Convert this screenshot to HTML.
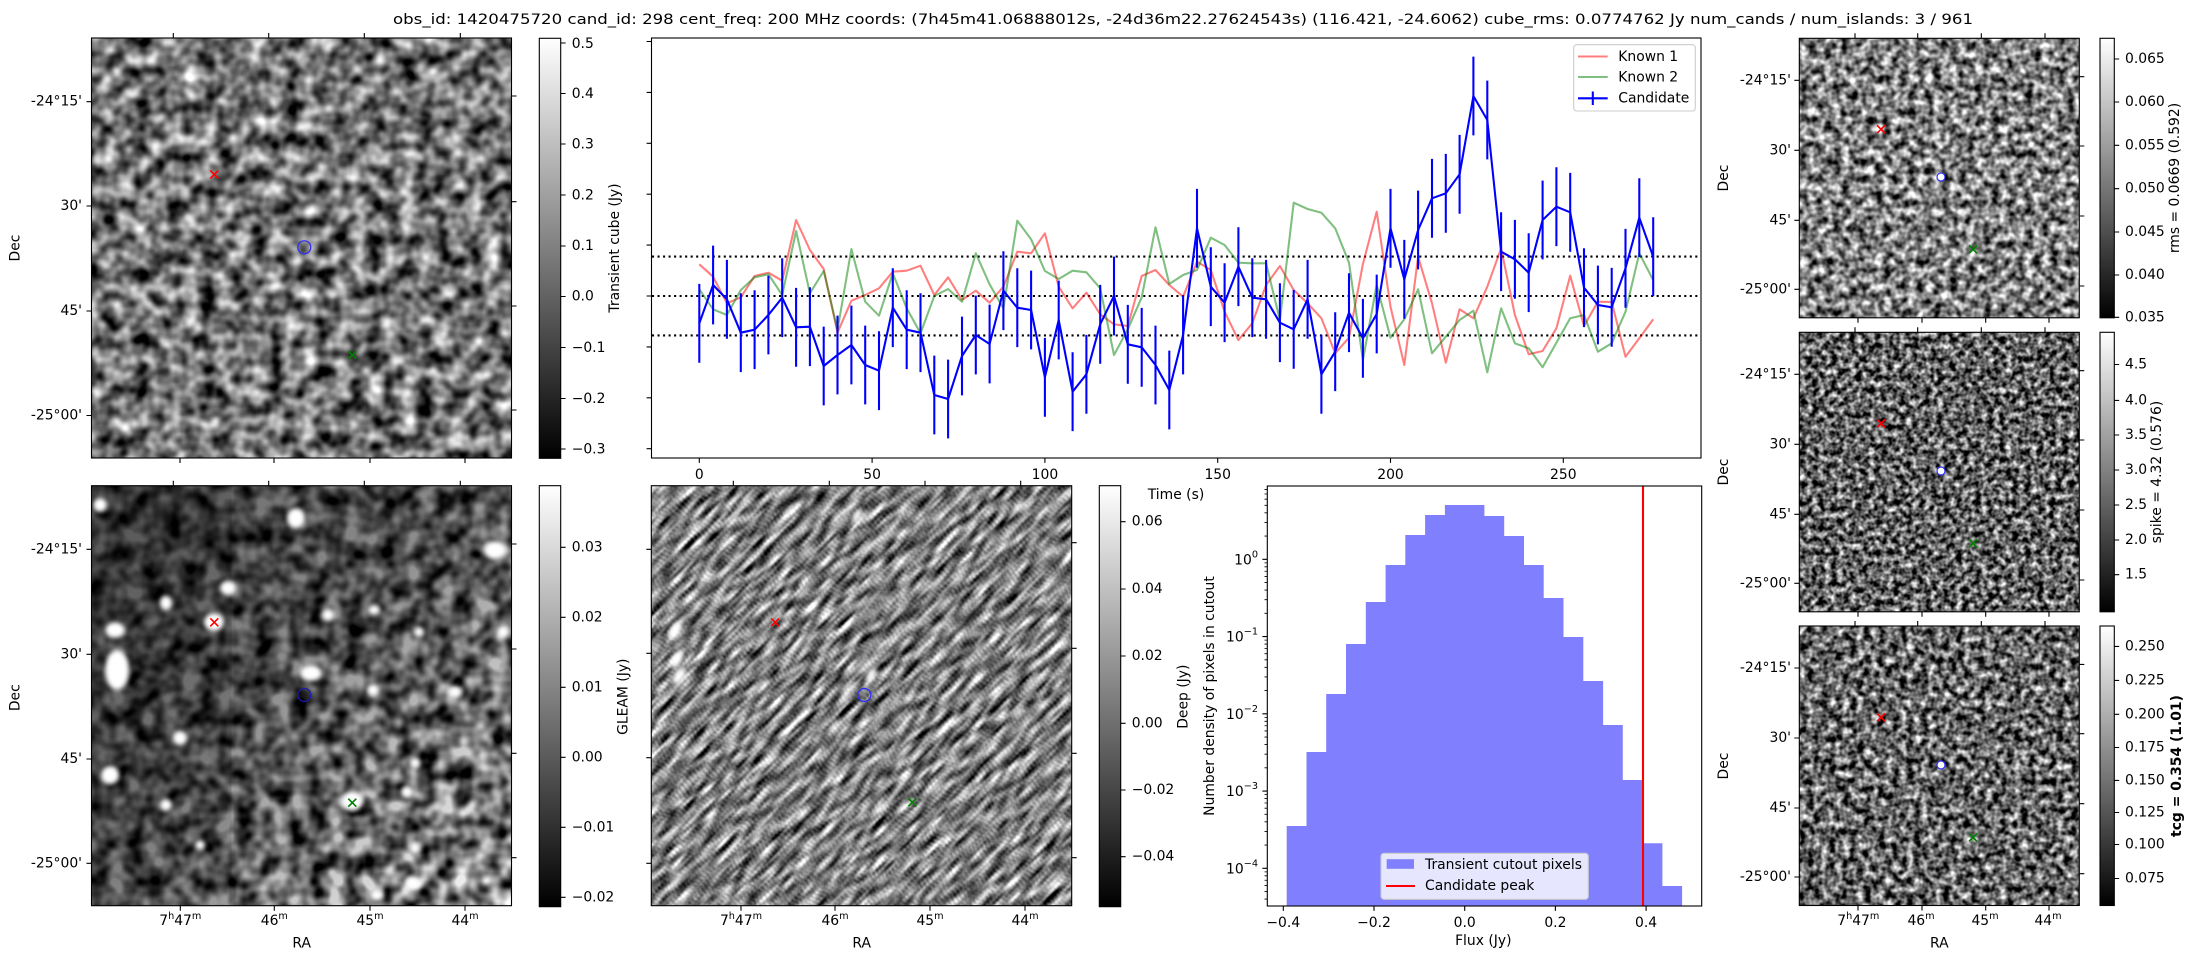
<!DOCTYPE html>
<html><head><meta charset="utf-8">
<style>
html,body{margin:0;padding:0;background:#fff;width:2193px;height:960px;overflow:hidden}
svg{display:block}
text{font-family:"DejaVu Sans","Liberation Sans",sans-serif;font-size:13.9px;fill:#000}
</style></head>
<body>
<svg width="2193" height="960" viewBox="0 0 2193 960" xmlns="http://www.w3.org/2000/svg" overflow="hidden">
<defs>
<linearGradient id="gcb" x1="0" y1="1" x2="0" y2="0"><stop offset="0" stop-color="#000"/><stop offset="1" stop-color="#fff"/></linearGradient>
<linearGradient id="gdark" x1="0" y1="0" x2="1" y2="1"><stop offset="0" stop-color="#000" stop-opacity="0.62"/><stop offset="0.45" stop-color="#000" stop-opacity="0.45"/><stop offset="1" stop-color="#000" stop-opacity="0"/></linearGradient>
<filter id="fTL" x="0" y="0" width="1" height="1" color-interpolation-filters="sRGB">
<feTurbulence type="fractalNoise" baseFrequency="0.06" numOctaves="2" seed="11"/>
<feColorMatrix type="matrix" values="1.6 0 0 0 -0.35 1.6 0 0 0 -0.35 1.6 0 0 0 -0.35 0 0 0 0 1"/>
</filter>
<filter id="fGL" x="0" y="0" width="1" height="1" color-interpolation-filters="sRGB">
<feTurbulence type="fractalNoise" baseFrequency="0.055" numOctaves="2" seed="4"/>
<feColorMatrix type="matrix" values="2 0 0 0 -0.48 2 0 0 0 -0.48 2 0 0 0 -0.48 0 0 0 0 1"/>
</filter>
<filter id="fDeep" x="-0.05" y="-0.05" width="1.1" height="1.1" color-interpolation-filters="sRGB">
<feTurbulence type="fractalNoise" baseFrequency="0.13" numOctaves="2" seed="21" result="t0"/>
<feColorMatrix in="t0" type="matrix" values="1 0 0 0 0 1 0 0 0 0 1 0 0 0 0 0 0 0 0 1" result="t"/>
<feOffset in="t" dx="3" dy="-3" result="a"/>
<feOffset in="t" dx="-3" dy="3" result="b"/>
<feOffset in="t" dx="6" dy="-6" result="c"/>
<feOffset in="t" dx="-6" dy="6" result="d"/>
<feComposite in="a" in2="b" operator="arithmetic" k2="0.5" k3="0.5" result="ab"/>
<feComposite in="c" in2="d" operator="arithmetic" k2="0.5" k3="0.5" result="cd"/>
<feComposite in="ab" in2="cd" operator="arithmetic" k2="0.6" k3="0.4" result="abcd"/>
<feComposite in="abcd" in2="t" operator="arithmetic" k2="0.7" k3="0.3" result="m"/>
<feColorMatrix in="m" type="matrix" values="3.2 0 0 0 -1.1 3.2 0 0 0 -1.1 3.2 0 0 0 -1.1 0 0 0 0 1"/>
</filter>
<filter id="fRms" x="0" y="0" width="1" height="1" color-interpolation-filters="sRGB">
<feTurbulence type="fractalNoise" baseFrequency="0.12" numOctaves="2" seed="5"/>
<feColorMatrix type="matrix" values="1.8 0 0 0 -0.4 1.8 0 0 0 -0.4 1.8 0 0 0 -0.4 0 0 0 0 1"/>
</filter>
<filter id="fSpk" x="0" y="0" width="1" height="1" color-interpolation-filters="sRGB">
<feTurbulence type="fractalNoise" baseFrequency="0.16" numOctaves="2" seed="8"/>
<feColorMatrix type="matrix" values="1.9 0 0 0 -0.57 1.9 0 0 0 -0.57 1.9 0 0 0 -0.57 0 0 0 0 1"/>
</filter>
<filter id="fTcg" x="0" y="0" width="1" height="1" color-interpolation-filters="sRGB">
<feTurbulence type="fractalNoise" baseFrequency="0.14" numOctaves="2" seed="13"/>
<feColorMatrix type="matrix" values="1.9 0 0 0 -0.55 1.9 0 0 0 -0.55 1.9 0 0 0 -0.55 0 0 0 0 1"/>
</filter>
<filter id="fBlur" x="-50%" y="-50%" width="200%" height="200%"><feGaussianBlur stdDeviation="2.5"/></filter>
<clipPath id="cGL"><rect x="91.5" y="485.7" width="420" height="420"/></clipPath>
<clipPath id="cDeep"><rect x="651.3" y="485.7" width="420.4" height="420"/></clipPath>
</defs>

<text x="393" y="24" font-size="16.7" textLength="1580" lengthAdjust="spacingAndGlyphs">obs_id: 1420475720 cand_id: 298 cent_freq: 200 MHz coords: (7h45m41.06888012s, -24d36m22.27624543s) (116.421, -24.6062) cube_rms: 0.0774762 Jy num_cands / num_islands: 3 / 961</text>

<!-- ============ TOP-LEFT transient image ============ -->
<rect x="91.5" y="38" width="420" height="420" filter="url(#fTL)"/>
<rect x="91.5" y="38" width="420" height="420" fill="none" stroke="#000" stroke-width="1.1"/>
<g stroke="#000" stroke-width="1.1" fill="none">
<path d="M86.5 101.7H91.5M86.5 206H91.5M86.5 311H91.5M86.5 415.5H91.5M511.5 96H516.5M511.5 201.7H516.5M511.5 306H516.5M511.5 410H516.5M173.3 33V38M268.7 33V38M364.3 33V38M460.3 33V38M180 458V463M274 458V463M370 458V463M465 458V463"/>
</g>
<g text-anchor="end" dominant-baseline="central">
<text x="82" y="101.7">-24°15'</text><text x="82" y="206">30'</text><text x="82" y="311">45'</text><text x="82" y="415.5">-25°00'</text>
</g>
<text transform="rotate(-90 15.7 248)" x="15.7" y="248" text-anchor="middle" dominant-baseline="central">Dec</text>
<g stroke-width="1.6" fill="none">
<path d="M210.3 170.5L218.3 178.5M210.3 178.5L218.3 170.5" stroke="#ff0000"/>
<path d="M348.3 351L356.3 359M348.3 359L356.3 351" stroke="#008000"/>
<circle cx="304.3" cy="247.3" r="6.5" stroke="#2a2aff" stroke-width="1.2"/>
</g>
<!-- colorbar TL -->
<rect x="539.3" y="38.3" width="21.4" height="420" fill="url(#gcb)" stroke="#000" stroke-width="1.1"/>
<path d="M560.7 43H565.6M560.7 93.5H565.6M560.7 144H565.6M560.7 195H565.6M560.7 246H565.6M560.7 296.5H565.6M560.7 347.5H565.6M560.7 398.5H565.6M560.7 449H565.6" stroke="#000" stroke-width="1.1"/>
<g dominant-baseline="central">
<text x="571.7" y="44">0.5</text><text x="571.7" y="94">0.4</text><text x="571.7" y="144.5">0.3</text><text x="571.7" y="195.5">0.2</text><text x="571.7" y="246">0.1</text><text x="571.7" y="296.5">0.0</text><text x="571.7" y="348">−0.1</text><text x="571.7" y="399">−0.2</text><text x="571.7" y="449.3">−0.3</text>
</g>
<text transform="rotate(-90 615 248)" x="615" y="248" text-anchor="middle" dominant-baseline="central">Transient cube (Jy)</text>

<!-- ============ LIGHT CURVE ============ -->
<rect x="651.5" y="38" width="1049.5" height="420" fill="none" stroke="#000" stroke-width="1.1"/>
<path d="M646.6 41.5H651.5M646.6 92.4H651.5M646.6 143.3H651.5M646.6 194.2H651.5M646.6 245.1H651.5M646.6 296H651.5M646.6 346.9H651.5M646.6 397.8H651.5M646.6 448.7H651.5M699.3 458V462.9M872.1 458V462.9M1044.9 458V462.9M1217.7 458V462.9M1390.5 458V462.9M1563.3 458V462.9" stroke="#000" stroke-width="1.1"/>
<g text-anchor="middle">
<text x="699.3" y="479">0</text><text x="872.1" y="479">50</text><text x="1044.9" y="479">100</text><text x="1217.7" y="479">150</text><text x="1390.5" y="479">200</text><text x="1563.3" y="479">250</text>
<text x="1176" y="499">Time (s)</text>
</g>
<g stroke="#000" stroke-width="2.08" stroke-dasharray="2.08 3.44" fill="none">
<path d="M652 256.6H1700.5M652 296H1700.5M652 335.4H1700.5"/>
</g>
<path fill="none" stroke="#ff0000" stroke-opacity="0.5" stroke-width="2.08" stroke-linejoin="round" d="M699.3 264.3L713.1 276.7L726.9 303.3L740.8 297.3L754.6 276L768.4 272.7L782.2 280.7L796.1 220L809.9 250L823.7 269L837.5 332.7L851.4 300.7L865.2 295L879 288.3L892.8 271.7L906.7 270.7L920.5 265.7L934.3 295L948.1 277.3L962 300L975.8 290.7L989.6 302.7L1003.4 286.7L1017.3 251.7L1031.1 253.3L1044.9 233.3L1058.7 286.7L1072.6 308.3L1086.4 292.7L1100.2 314.3L1114 324.3L1127.8 326L1141.7 276L1155.5 270L1169.3 285L1183.1 296.7L1197 261.7L1210.8 270L1224.6 311.7L1238.4 340L1252.3 323.3L1266.1 285L1279.9 266L1293.7 290L1307.6 303.3L1321.4 318.3L1335.2 353.3L1349 337.7L1362.9 264L1376.7 211.7L1390.5 306.7L1404.3 365L1418.1 256.7L1432 303.3L1445.8 362.7L1459.6 309.3L1473.4 318.3L1487.3 286.7L1501.1 248.3L1514.9 315L1528.7 354.3L1542.6 351L1556.4 328.3L1570.2 275.7L1584 326L1597.9 301.7L1611.7 302L1625.5 356.7L1639.3 338.3L1653.2 319.3"/>
<path fill="none" stroke="#008000" stroke-opacity="0.5" stroke-width="2.08" stroke-linejoin="round" d="M699.3 289.3L713.1 309.3L726.9 315L740.8 290L754.6 277.3L768.4 274.3L782.2 295L796.1 231L809.9 293.3L823.7 271L837.5 330L851.4 249L865.2 301.7L879 315.7L892.8 273.3L906.7 308.3L920.5 333.3L934.3 296L948.1 289L962 301.7L975.8 253.3L989.6 284.3L1003.4 308.3L1017.3 220.7L1031.1 239.3L1044.9 271L1058.7 279L1072.6 270.7L1086.4 272.3L1100.2 288.3L1114 355L1127.8 329.3L1141.7 297.3L1155.5 227.3L1169.3 284L1183.1 275L1197 270L1210.8 237.7L1224.6 245L1238.4 262.7L1252.3 263.3L1266.1 263.3L1279.9 320L1293.7 202.7L1307.6 209L1321.4 212.7L1335.2 228.3L1349 262.7L1362.9 360L1376.7 285L1390.5 337.7L1404.3 319.3L1418.1 289.3L1432 353.3L1445.8 336.7L1459.6 320L1473.4 310.7L1487.3 372.3L1501.1 308.3L1514.9 343.3L1528.7 348.3L1542.6 367.3L1556.4 342.7L1570.2 318.3L1584 315L1597.9 351.7L1611.7 343.3L1625.5 311.7L1639.3 253.3L1653.2 280"/>
<path fill="none" stroke="#0000ff" stroke-width="2.08" d="M699.3 283.9V362.7M713.1 245.6V324.4M726.9 259.9V338.7M740.8 293.3V372.1M754.6 290.3V369.1M768.4 275.6V354.4M782.2 258.3V337.1M796.1 287.9V366.7M809.9 287.3V366.1M823.7 326.6V405.4M837.5 315.6V394.4M851.4 305.6V384.4M865.2 325.6V404.4M879 331.3V410.1M892.8 268.3V347.1M906.7 290.3V369.1M920.5 293.3V372.1M934.3 355.6V434.4M948.1 359.6V438.4M962 316.6V395.4M975.8 295.6V374.4M989.6 304.6V383.4M1003.4 251.3V330.1M1017.3 268.3V347.1M1031.1 270.6V349.4M1044.9 337.9V416.7M1058.7 280.6V359.4M1072.6 352.3V431.1M1086.4 334.9V413.7M1100.2 284.9V363.7M1114 256.6V335.4M1127.8 304.9V383.7M1141.7 307.9V386.7M1155.5 325.6V404.4M1169.3 350.6V429.4M1183.1 295.6V374.4M1197 188.9V267.7M1210.8 247.3V326.1M1224.6 263.3V342.1M1238.4 227.3V306.1M1252.3 258.3V337.1M1266.1 259.9V338.7M1279.9 283.3V362.1M1293.7 289.9V368.7M1307.6 259.9V338.7M1321.4 334.9V413.7M1335.2 312.3V391.1M1349 273.3V352.1M1362.9 298.9V377.7M1376.7 274.6V353.4M1390.5 188.9V267.7M1404.3 239.9V318.7M1418.1 190.6V269.4M1432 158.9V237.7M1445.8 153.9V232.7M1459.6 134.9V213.7M1473.4 56.6V135.4M1487.3 80.6V159.4M1501.1 212.3V291.1M1514.9 219.9V298.7M1528.7 233.3V312.1M1542.6 180.6V259.4M1556.4 167.3V246.1M1570.2 172.9V251.7M1584 248.3V327.1M1597.9 265.6V344.4M1611.7 267.9V346.7M1625.5 228.9V307.7M1639.3 178.3V257.1M1653.2 217.3V296.1"/>
<path fill="none" stroke="#0000ff" stroke-width="2.08" stroke-linejoin="round" d="M699.3 323.3L713.1 285L726.9 299.3L740.8 332.7L754.6 329.7L768.4 315L782.2 297.7L796.1 327.3L809.9 326.7L823.7 366L837.5 355L851.4 345L865.2 365L879 370.7L892.8 307.7L906.7 329.7L920.5 332.7L934.3 395L948.1 399L962 356L975.8 335L989.6 344L1003.4 290.7L1017.3 307.7L1031.1 310L1044.9 377.3L1058.7 320L1072.6 391.7L1086.4 374.3L1100.2 324.3L1114 296L1127.8 344.3L1141.7 347.3L1155.5 365L1169.3 390L1183.1 335L1197 228.3L1210.8 286.7L1224.6 302.7L1238.4 266.7L1252.3 297.7L1266.1 299.3L1279.9 322.7L1293.7 329.3L1307.6 299.3L1321.4 374.3L1335.2 351.7L1349 312.7L1362.9 338.3L1376.7 314L1390.5 228.3L1404.3 279.3L1418.1 230L1432 198.3L1445.8 193.3L1459.6 174.3L1473.4 96L1487.3 120L1501.1 251.7L1514.9 259.3L1528.7 272.7L1542.6 220L1556.4 206.7L1570.2 212.3L1584 287.7L1597.9 305L1611.7 307.3L1625.5 268.3L1639.3 217.7L1653.2 256.7"/>
<!-- legend LC -->
<rect x="1573.7" y="44.7" width="121.6" height="66.3" rx="3" fill="#fff" fill-opacity="0.8" stroke="#cccccc" stroke-width="1.1"/>
<path d="M1578 56.5H1607.7" stroke="#ff0000" stroke-opacity="0.5" stroke-width="2.08"/>
<path d="M1578 77H1607.7" stroke="#008000" stroke-opacity="0.5" stroke-width="2.08"/>
<path d="M1578 98.3H1607.7M1592.8 91.5V105" stroke="#0000ff" stroke-width="2.08"/>
<g dominant-baseline="central">
<text x="1618.3" y="57">Known 1</text><text x="1618.3" y="77.5">Known 2</text><text x="1618.3" y="98.5">Candidate</text>
</g>

<!-- ============ RIGHT COLUMN ============ -->
<rect x="1799.3" y="38.3" width="280" height="279.5" filter="url(#fRms)"/>
<rect x="1799.3" y="332.3" width="280" height="279.5" filter="url(#fSpk)"/>
<rect x="1799.3" y="626" width="280" height="279.5" filter="url(#fTcg)"/>
<g fill="none" stroke="#000" stroke-width="1.1">
<rect x="1799.3" y="38.3" width="280" height="279.5"/>
<rect x="1799.3" y="332.3" width="280" height="279.5"/>
<rect x="1799.3" y="626" width="280" height="279.5"/>
<path d="M1794.3 80.3H1799.3M1794.3 150.3H1799.3M1794.3 220.3H1799.3M1794.3 289.3H1799.3M2079.3 76.7H2084.3M2079.3 146H2084.3M2079.3 216H2084.3M2079.3 286H2084.3M1855 33.3V38.3M1917.7 33.3V38.3M1981.3 33.3V38.3M2045 33.3V38.3M1858 317.8V322.8M1922 317.8V322.8M1985.7 317.8V322.8M2049 317.8V322.8"/>
<path d="M1794.3 374.3H1799.3M1794.3 444.3H1799.3M1794.3 514.3H1799.3M1794.3 583.3H1799.3M2079.3 370.7H2084.3M2079.3 440H2084.3M2079.3 510H2084.3M2079.3 580H2084.3M1855 327.3V332.3M1917.7 327.3V332.3M1981.3 327.3V332.3M2045 327.3V332.3M1858 611.8V616.8M1922 611.8V616.8M1985.7 611.8V616.8M2049 611.8V616.8"/>
<path d="M1794.3 668H1799.3M1794.3 738H1799.3M1794.3 808H1799.3M1794.3 877H1799.3M2079.3 664.4H2084.3M2079.3 733.7H2084.3M2079.3 803.7H2084.3M2079.3 873.7H2084.3M1855 621V626M1917.7 621V626M1981.3 621V626M2045 621V626M1858 905.5V910.5M1922 905.5V910.5M1985.7 905.5V910.5M2049 905.5V910.5"/>
</g>
<g text-anchor="end" dominant-baseline="central">
<text x="1791" y="80.3">-24°15'</text><text x="1791" y="150.3">30'</text><text x="1791" y="220.3">45'</text><text x="1791" y="289.3">-25°00'</text>
<text x="1791" y="374.3">-24°15'</text><text x="1791" y="444.3">30'</text><text x="1791" y="514.3">45'</text><text x="1791" y="583.3">-25°00'</text>
<text x="1791" y="668">-24°15'</text><text x="1791" y="738">30'</text><text x="1791" y="808">45'</text><text x="1791" y="877">-25°00'</text>
</g>
<text transform="rotate(-90 1724 178)" x="1724" y="178" text-anchor="middle" dominant-baseline="central">Dec</text>
<text transform="rotate(-90 1724 472)" x="1724" y="472" text-anchor="middle" dominant-baseline="central">Dec</text>
<text transform="rotate(-90 1724 766)" x="1724" y="766" text-anchor="middle" dominant-baseline="central">Dec</text>
<g text-anchor="middle">
<text x="1858.3" y="925">7<tspan font-size="9.7" dy="-6">h</tspan><tspan dy="6">47</tspan><tspan font-size="9.7" dy="-6">m</tspan></text>
<text x="1921" y="925">46<tspan font-size="9.7" dy="-6">m</tspan></text>
<text x="1985" y="925">45<tspan font-size="9.7" dy="-6">m</tspan></text>
<text x="2048" y="925">44<tspan font-size="9.7" dy="-6">m</tspan></text>
<text x="1939.3" y="947.5">RA</text>
</g>
<g stroke-width="1.6" fill="none">
<path d="M1877 125.3L1885 133.3M1877 133.3L1885 125.3M1877 419.5L1885 427.5M1877 427.5L1885 419.5M1877 713.3L1885 721.3M1877 721.3L1885 713.3" stroke="#ff0000"/>
<path d="M1969 245.3L1977 253.3M1969 253.3L1977 245.3M1969 539.3L1977 547.3M1969 547.3L1977 539.3M1969 833.3L1977 841.3M1969 841.3L1977 833.3" stroke="#008000"/>
<g stroke="#3030ff" stroke-width="1.2" fill="#fff">
<circle cx="1941" cy="177" r="4"/><circle cx="1941" cy="471" r="4"/><circle cx="1941" cy="765" r="4"/>
</g>
</g>
<!-- right colorbars -->
<rect x="2100" y="38.3" width="14.3" height="279.5" fill="url(#gcb)" stroke="#000" stroke-width="1.1"/>
<rect x="2100" y="332.3" width="14.3" height="279.5" fill="url(#gcb)" stroke="#000" stroke-width="1.1"/>
<rect x="2100" y="626" width="14.3" height="279.5" fill="url(#gcb)" stroke="#000" stroke-width="1.1"/>
<path stroke="#000" stroke-width="1.1" d="M2114.3 59H2119.2M2114.3 102H2119.2M2114.3 145.3H2119.2M2114.3 188.7H2119.2M2114.3 232H2119.2M2114.3 275H2119.2M2114.3 317.3H2119.2M2114.3 364.5H2119.2M2114.3 400.4H2119.2M2114.3 435H2119.2M2114.3 470H2119.2M2114.3 505H2119.2M2114.3 540H2119.2M2114.3 574.7H2119.2M2114.3 646.4H2119.2M2114.3 680.4H2119.2M2114.3 714.3H2119.2M2114.3 747.5H2119.2M2114.3 780.4H2119.2M2114.3 812.5H2119.2M2114.3 844.5H2119.2M2114.3 878.5H2119.2"/>
<g dominant-baseline="central">
<text x="2125" y="59">0.065</text><text x="2125" y="102">0.060</text><text x="2125" y="145.3">0.055</text><text x="2125" y="188.7">0.050</text><text x="2125" y="232">0.045</text><text x="2125" y="275">0.040</text><text x="2125" y="317.3">0.035</text>
<text x="2125" y="364.5">4.5</text><text x="2125" y="400.4">4.0</text><text x="2125" y="435">3.5</text><text x="2125" y="470">3.0</text><text x="2125" y="505">2.5</text><text x="2125" y="540">2.0</text><text x="2125" y="574.7">1.5</text>
<text x="2125" y="646.4">0.250</text><text x="2125" y="680.4">0.225</text><text x="2125" y="714.3">0.200</text><text x="2125" y="747.5">0.175</text><text x="2125" y="780.4">0.150</text><text x="2125" y="812.5">0.125</text><text x="2125" y="844.5">0.100</text><text x="2125" y="878.5">0.075</text>
</g>
<text transform="rotate(-90 2175 178)" x="2175" y="178" text-anchor="middle" dominant-baseline="central">rms = 0.0669 (0.592)</text>
<text transform="rotate(-90 2157 472)" x="2157" y="472" text-anchor="middle" dominant-baseline="central">spike = 4.32 (0.576)</text>
<text transform="rotate(-90 2177 766)" x="2177" y="766" text-anchor="middle" dominant-baseline="central" font-weight="bold">tcg = 0.354 (1.01)</text>

<!-- ============ BOTTOM-LEFT GLEAM ============ -->
<rect x="91.5" y="485.7" width="420" height="420" filter="url(#fGL)"/>
<rect x="91.5" y="485.7" width="420" height="420" fill="url(#gdark)"/>
<rect x="91.5" y="485.7" width="140" height="420" fill="#000" fill-opacity="0.15"/>
<g clip-path="url(#cGL)"><g fill="#fff" filter="url(#fBlur)">
<ellipse cx="100" cy="505" rx="7" ry="7"/><ellipse cx="296" cy="518" rx="9" ry="10"/><ellipse cx="495" cy="550" rx="11" ry="9"/><ellipse cx="228" cy="588" rx="8" ry="7"/><ellipse cx="166" cy="603" rx="6" ry="7"/><ellipse cx="115" cy="630" rx="10" ry="8"/><ellipse cx="117" cy="670" rx="12" ry="20"/><ellipse cx="311" cy="673" rx="11" ry="8"/><ellipse cx="328" cy="615" rx="6" ry="6"/><ellipse cx="374" cy="610" rx="6" ry="5"/><ellipse cx="373" cy="690" rx="6" ry="6"/><ellipse cx="455" cy="692" rx="7" ry="6"/><ellipse cx="419" cy="632" rx="5" ry="5"/><ellipse cx="503" cy="632" rx="6" ry="6"/><ellipse cx="180" cy="738" rx="7" ry="7"/><ellipse cx="110" cy="775" rx="9" ry="9"/><ellipse cx="352" cy="801" rx="11" ry="10"/><ellipse cx="415" cy="763" rx="5" ry="5"/><ellipse cx="407" cy="792" rx="6" ry="6"/><ellipse cx="415" cy="848" rx="5" ry="6"/><ellipse cx="413" cy="883" rx="8" ry="6"/><ellipse cx="377" cy="895" rx="7" ry="6"/><ellipse cx="214" cy="622" rx="10" ry="9"/><ellipse cx="166" cy="805" rx="6" ry="6"/><ellipse cx="200" cy="845" rx="5" ry="5"/>
</g></g>
<rect x="91.5" y="485.7" width="420" height="420" fill="none" stroke="#000" stroke-width="1.1"/>
<path stroke="#000" stroke-width="1.1" fill="none" d="M86.5 549.3H91.5M86.5 654.3H91.5M86.5 759H91.5M86.5 863.3H91.5M511.5 544H516.5M511.5 649H516.5M511.5 753.3H516.5M511.5 857.7H516.5M173.3 480.7V485.7M268.7 480.7V485.7M364.3 480.7V485.7M460.3 480.7V485.7M180.3 905.7V910.7M274.3 905.7V910.7M370 905.7V910.7M465 905.7V910.7"/>
<g text-anchor="end" dominant-baseline="central">
<text x="82" y="549.3">-24°15'</text><text x="82" y="654.3">30'</text><text x="82" y="759">45'</text><text x="82" y="863.3">-25°00'</text>
</g>
<text transform="rotate(-90 15.7 697.7)" x="15.7" y="697.7" text-anchor="middle" dominant-baseline="central">Dec</text>
<g text-anchor="middle">
<text x="180.3" y="925">7<tspan font-size="9.7" dy="-6">h</tspan><tspan dy="6">47</tspan><tspan font-size="9.7" dy="-6">m</tspan></text>
<text x="274.3" y="925">46<tspan font-size="9.7" dy="-6">m</tspan></text>
<text x="370" y="925">45<tspan font-size="9.7" dy="-6">m</tspan></text>
<text x="465" y="925">44<tspan font-size="9.7" dy="-6">m</tspan></text>
<text x="301.7" y="947.5">RA</text>
</g>
<g stroke-width="1.6" fill="none">
<path d="M210.3 618.3L218.3 626.3M210.3 626.3L218.3 618.3" stroke="#ff0000"/>
<path d="M348.3 798.7L356.3 806.7M348.3 806.7L356.3 798.7" stroke="#008000"/>
<circle cx="304.3" cy="695" r="6.5" stroke="#1a1ab0" stroke-width="1.2"/>
</g>
<rect x="539.3" y="485.7" width="21.4" height="421" fill="url(#gcb)" stroke="#000" stroke-width="1.1"/>
<path stroke="#000" stroke-width="1.1" d="M560.7 547.3H565.6M560.7 617.3H565.6M560.7 687.3H565.6M560.7 757.3H565.6M560.7 827.3H565.6M560.7 897.3H565.6"/>
<g dominant-baseline="central">
<text x="571.7" y="547.3">0.03</text><text x="571.7" y="617.3">0.02</text><text x="571.7" y="687.3">0.01</text><text x="571.7" y="757.3">0.00</text><text x="571.7" y="827.3">−0.01</text><text x="571.7" y="897.3">−0.02</text>
</g>
<text transform="rotate(-90 623.3 696.7)" x="623.3" y="696.7" text-anchor="middle" dominant-baseline="central">GLEAM (Jy)</text>

<!-- ============ BOTTOM-MIDDLE DEEP ============ -->
<g clip-path="url(#cDeep)">
<rect x="651.3" y="485.7" width="420.4" height="420" filter="url(#fDeep)"/>
<g fill="#fff" filter="url(#fBlur)">
<ellipse cx="675" cy="630" rx="5" ry="9" transform="rotate(30 675 630)"/><ellipse cx="676.7" cy="660" rx="5" ry="9" transform="rotate(30 676.7 660)"/><ellipse cx="679" cy="676" rx="5" ry="9" transform="rotate(30 679 676)"/><ellipse cx="857" cy="515" rx="4" ry="8" transform="rotate(30 857 515)"/><ellipse cx="871" cy="675" rx="4" ry="8" transform="rotate(30 871 675)"/>
</g>
</g>
<rect x="651.3" y="485.7" width="420.4" height="420" fill="none" stroke="#000" stroke-width="1.1"/>
<path stroke="#000" stroke-width="1.1" fill="none" d="M646.3 549.3H651.3M646.3 653.3H651.3M646.3 757.7H651.3M646.3 863.3H651.3M1071.7 542.7H1076.7M1071.7 648.3H1076.7M1071.7 753.3H1076.7M1071.7 857.7H1076.7M733.3 480.7V485.7M829.3 480.7V485.7M925 480.7V485.7M1020.7 480.7V485.7M741 905.7V910.7M835 905.7V910.7M930 905.7V910.7M1025 905.7V910.7"/>
<g text-anchor="middle">
<text x="741" y="925">7<tspan font-size="9.7" dy="-6">h</tspan><tspan dy="6">47</tspan><tspan font-size="9.7" dy="-6">m</tspan></text>
<text x="835" y="925">46<tspan font-size="9.7" dy="-6">m</tspan></text>
<text x="930" y="925">45<tspan font-size="9.7" dy="-6">m</tspan></text>
<text x="1025" y="925">44<tspan font-size="9.7" dy="-6">m</tspan></text>
<text x="861.7" y="947.5">RA</text>
</g>
<g stroke-width="1.6" fill="none">
<path d="M771 618.3L779 626.3M771 626.3L779 618.3" stroke="#ff0000"/>
<path d="M908.3 798.3L916.3 806.3M908.3 806.3L916.3 798.3" stroke="#008000"/>
<circle cx="864.3" cy="695" r="6.5" stroke="#2a2aff" stroke-width="1.2"/>
</g>
<rect x="1099.3" y="485.7" width="21.4" height="421" fill="url(#gcb)" stroke="#000" stroke-width="1.1"/>
<path stroke="#000" stroke-width="1.1" d="M1120.7 521.7H1125.6M1120.7 589H1125.6M1120.7 656H1125.6M1120.7 723.3H1125.6M1120.7 790H1125.6M1120.7 856.7H1125.6"/>
<g dominant-baseline="central">
<text x="1131.7" y="521.7">0.06</text><text x="1131.7" y="589">0.04</text><text x="1131.7" y="656">0.02</text><text x="1131.7" y="723.3">0.00</text><text x="1131.7" y="790">−0.02</text><text x="1131.7" y="856.7">−0.04</text>
</g>
<text transform="rotate(-90 1183.3 696.7)" x="1183.3" y="696.7" text-anchor="middle" dominant-baseline="central">Deep (Jy)</text>

<!-- ============ HISTOGRAM ============ -->
<path fill="#8080ff" d="M1286.7 906V826H1306.5V752H1326.2V694H1346V644H1365.8V602H1385.6V565H1405.3V535H1425.1V515H1444.9V505H1484.4V516H1504.2V536H1524V565H1543.7V598H1563.5V637H1583.3V681H1603.1V725H1622.8V780H1642.6V843.3H1662.4V886H1682.1V906Z"/>
<path d="M1643 486V906" stroke="#ff0000" stroke-width="2.1"/>
<rect x="1267.3" y="486" width="434.4" height="420" fill="none" stroke="#000" stroke-width="1.1"/>
<path stroke="#000" stroke-width="1.1" d="M1262.4 559.3H1267.3M1262.4 636.55H1267.3M1262.4 713.8H1267.3M1262.4 791.05H1267.3M1262.4 868.3H1267.3M1283.3 906V910.9M1374 906V910.9M1464.7 906V910.9M1555.4 906V910.9M1646.1 906V910.9"/>
<path stroke="#000" stroke-width="0.8" d="M1264.5 536.05H1267.3M1264.5 522.44H1267.3M1264.5 512.8H1267.3M1264.5 505.3H1267.3M1264.5 499.2H1267.3M1264.5 494H1267.3M1264.5 489.54H1267.3M1264.5 613.3H1267.3M1264.5 599.69H1267.3M1264.5 590.05H1267.3M1264.5 582.55H1267.3M1264.5 576.45H1267.3M1264.5 571.25H1267.3M1264.5 566.79H1267.3M1264.5 562.85H1267.3M1264.5 690.55H1267.3M1264.5 676.94H1267.3M1264.5 667.3H1267.3M1264.5 659.8H1267.3M1264.5 653.7H1267.3M1264.5 648.5H1267.3M1264.5 644.04H1267.3M1264.5 640.1H1267.3M1264.5 767.8H1267.3M1264.5 754.19H1267.3M1264.5 744.55H1267.3M1264.5 737.05H1267.3M1264.5 730.95H1267.3M1264.5 725.75H1267.3M1264.5 721.29H1267.3M1264.5 717.35H1267.3M1264.5 845.05H1267.3M1264.5 831.44H1267.3M1264.5 821.8H1267.3M1264.5 814.3H1267.3M1264.5 808.2H1267.3M1264.5 803H1267.3M1264.5 798.54H1267.3M1264.5 794.6H1267.3M1264.5 899.05H1267.3M1264.5 891.55H1267.3M1264.5 885.45H1267.3M1264.5 880.25H1267.3M1264.5 875.79H1267.3M1264.5 871.85H1267.3"/>
<g text-anchor="end">
<text x="1258" y="564.3">10<tspan font-size="9.7" dy="-7">0</tspan></text>
<text x="1258" y="641.5">10<tspan font-size="9.7" dy="-7">−1</tspan></text>
<text x="1258" y="718.8">10<tspan font-size="9.7" dy="-7">−2</tspan></text>
<text x="1258" y="796">10<tspan font-size="9.7" dy="-7">−3</tspan></text>
<text x="1258" y="873.3">10<tspan font-size="9.7" dy="-7">−4</tspan></text>
</g>
<g text-anchor="middle">
<text x="1283.3" y="927">−0.4</text><text x="1374" y="927">−0.2</text><text x="1464.7" y="927">0.0</text><text x="1555.4" y="927">0.2</text><text x="1646.1" y="927">0.4</text>
<text x="1483.3" y="945">Flux (Jy)</text>
</g>
<text transform="rotate(-90 1210 696)" x="1210" y="696" text-anchor="middle" dominant-baseline="central">Number density of pixels in cutout</text>
<rect x="1381" y="853.3" width="207.3" height="46" rx="3" fill="#fff" fill-opacity="0.8" stroke="#cccccc" stroke-width="1.1"/>
<rect x="1386.7" y="859.2" width="27.3" height="9.6" fill="#8080ff"/>
<path d="M1386 886H1415" stroke="#ff0000" stroke-width="2.08"/>
<g dominant-baseline="central">
<text x="1425" y="865">Transient cutout pixels</text>
<text x="1425" y="886">Candidate peak</text>
</g>
</svg>
</body></html>
